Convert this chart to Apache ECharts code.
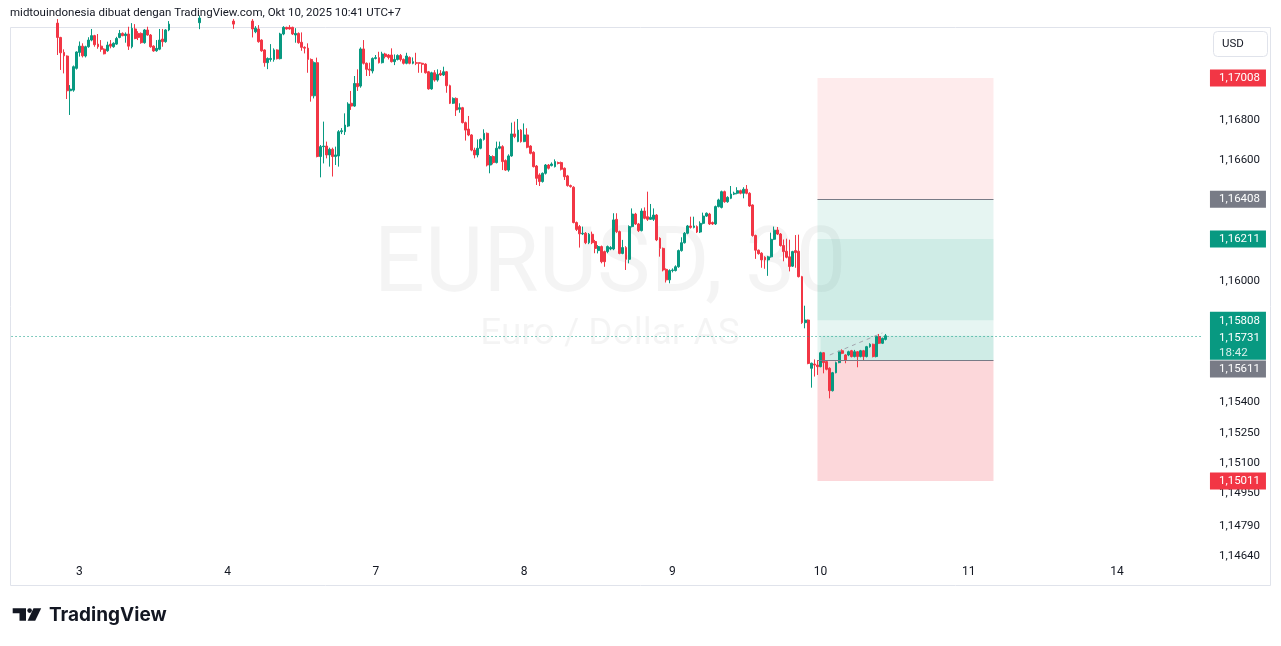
<!DOCTYPE html>
<html>
<head>
<meta charset="utf-8">
<script src="https://cdn.jsdelivr.net/npm/echarts@6/dist/echarts.min.js"></script>
<style>
html,body{margin:0;padding:0;background:#ffffff;}
#chart{width:1281px;height:646px;}
</style>
</head>
<body>
<div id="chart"></div>
<script>
// ---------- DATA (30-minute EURUSD bars, [open, high, low, close]) ----------
const oct2 = [
[1.17280,1.17300,1.17122,1.17209],[1.17209,1.17212,1.17048,1.17133],[1.17135,1.17150,1.17031,1.17118],
[1.17117,1.17120,1.16904,1.16945],[1.16945,1.16973,1.16825,1.16953],[1.16948,1.17070,1.16940,1.17064],
[1.17056,1.17140,1.17050,1.17137]
];
const oct3 = [
[1.17135,1.17189,1.17114,1.17166],[1.17166,1.17180,1.17110,1.17118],[1.17117,1.17168,1.17110,1.17163],
[1.17163,1.17210,1.17158,1.17196],[1.17196,1.17251,1.17190,1.17218],[1.17218,1.17222,1.17163,1.17173],
[1.17176,1.17226,1.17153,1.17163],[1.17166,1.17196,1.17138,1.17150],[1.17151,1.17155,1.17125,1.17128],
[1.17143,1.17188,1.17138,1.17171],[1.17176,1.17196,1.17155,1.17166],[1.17163,1.17185,1.17158,1.17180],
[1.17176,1.17212,1.17172,1.17204],[1.17209,1.17246,1.17205,1.17229],[1.17229,1.17234,1.17215,1.17218],
[1.17218,1.17234,1.17183,1.17226],[1.17226,1.17262,1.17147,1.17166],[1.17163,1.17280,1.17155,1.17254],
[1.17251,1.17275,1.17200,1.17204],[1.17229,1.17240,1.17196,1.17209],[1.17229,1.17234,1.17178,1.17183],
[1.17183,1.17251,1.17178,1.17246],[1.17246,1.17262,1.17218,1.17221],[1.17221,1.17226,1.17158,1.17163],
[1.17166,1.17170,1.17138,1.17142],[1.17143,1.17196,1.17138,1.17155],[1.17151,1.17251,1.17146,1.17196],
[1.17201,1.17251,1.17163,1.17188],[1.17188,1.17250,1.17183,1.17246],[1.17246,1.17290,1.17240,1.17275],
[1.17275,1.17310,1.17262,1.17298],[1.17298,1.17335,1.17285,1.17320],[1.17320,1.17340,1.17290,1.17302],
[1.17302,1.17330,1.17280,1.17315],[1.17315,1.17360,1.17305,1.17348],[1.17348,1.17372,1.17330,1.17338],
[1.17338,1.17350,1.17300,1.17312],[1.17312,1.17325,1.17280,1.17290],[1.17290,1.17310,1.17270,1.17282],
[1.17282,1.17318,1.17250,1.17305],[1.17305,1.17345,1.17298,1.17338],[1.17338,1.17385,1.17330,1.17370],
[1.17370,1.17410,1.17355,1.17395],[1.17395,1.17420,1.17370,1.17378],[1.17378,1.17392,1.17340,1.17352],
[1.17352,1.17368,1.17320,1.17330],[1.17330,1.17348,1.17300,1.17318],[1.17318,1.17335,1.17290,1.17300]
];
const oct4 = [
[1.17300,1.17325,1.17285,1.17310],[1.17310,1.17320,1.17278,1.17290],[1.17290,1.17300,1.17252,1.17275],
[1.17275,1.17310,1.17268,1.17302],[1.17302,1.17330,1.17290,1.17318],[1.17318,1.17325,1.17280,1.17292],
[1.17292,1.17305,1.17270,1.17285],[1.17285,1.17300,1.17265,1.17290],[1.17290,1.17300,1.17209,1.17251],
[1.17237,1.17265,1.17230,1.17255],[1.17251,1.17270,1.17183,1.17188],[1.17196,1.17200,1.17138,1.17143],
[1.17147,1.17150,1.17064,1.17084],[1.17084,1.17110,1.17052,1.17105],[1.17100,1.17176,1.17089,1.17105],
[1.17100,1.17155,1.17089,1.17147],[1.17147,1.17150,1.17100,1.17104],[1.17104,1.17232,1.17100,1.17226],
[1.17226,1.17265,1.17220,1.17259],[1.17259,1.17262,1.17248,1.17251],[1.17259,1.17270,1.17248,1.17251],
[1.17259,1.17262,1.17221,1.17226],[1.17221,1.17255,1.17183,1.17229],[1.17229,1.17234,1.17178,1.17183],
[1.17185,1.17234,1.17143,1.17160],[1.17160,1.17165,1.17130,1.17156],[1.17156,1.17180,1.17034,1.17100],
[1.17100,1.17105,1.16891,1.16920],[1.16920,1.17090,1.16907,1.17084],[1.17084,1.17109,1.16615,1.16619],
[1.16619,1.16676,1.16516,1.16668],[1.16668,1.16792,1.16585,1.16671],[1.16671,1.16693,1.16610,1.16627],
[1.16627,1.16663,1.16569,1.16655],[1.16655,1.16663,1.16520,1.16619],[1.16619,1.16668,1.16577,1.16627],
[1.16622,1.16750,1.16569,1.16742],[1.16742,1.16760,1.16730,1.16747],[1.16742,1.16833,1.16726,1.16775],
[1.16770,1.16888,1.16765,1.16879],[1.16883,1.16944,1.16850,1.16869],[1.16869,1.17018,1.16865,1.16981],
[1.16981,1.17051,1.16944,1.16965],[1.16968,1.17160,1.16960,1.17152],[1.17152,1.17196,1.17075,1.17081],
[1.17081,1.17085,1.17018,1.17051],[1.17052,1.17084,1.17018,1.17047],[1.17043,1.17110,1.17031,1.17105]
];
const oct7 = [
[1.17105,1.17122,1.17100,1.17109],[1.17109,1.17138,1.17080,1.17084],[1.17084,1.17138,1.17080,1.17127],
[1.17127,1.17133,1.17105,1.17114],[1.17122,1.17127,1.17100,1.17110],[1.17122,1.17155,1.17085,1.17089],
[1.17089,1.17125,1.17072,1.17100],[1.17100,1.17125,1.17095,1.17120],[1.17120,1.17127,1.17090,1.17100],
[1.17100,1.17105,1.17075,1.17081],[1.17081,1.17133,1.17076,1.17117],[1.17110,1.17115,1.17076,1.17081],
[1.17081,1.17110,1.17076,1.17089],[1.17084,1.17133,1.17072,1.17081],[1.17084,1.17085,1.17034,1.17081],
[1.17081,1.17084,1.17034,1.17076],[1.17077,1.17081,1.17030,1.17034],[1.17039,1.17043,1.16950,1.16954],
[1.16954,1.17039,1.16950,1.17034],[1.17034,1.17047,1.16990,1.16998],[1.16998,1.17051,1.16990,1.17026],
[1.17031,1.17047,1.17018,1.17023],[1.17023,1.17064,1.17018,1.17039],[1.17039,1.17043,1.16935,1.16970],
[1.16970,1.16975,1.16879,1.16883],[1.16883,1.16912,1.16879,1.16907],[1.16907,1.16912,1.16820,1.16850],
[1.16853,1.16883,1.16836,1.16861],[1.16861,1.16865,1.16783,1.16787],[1.16787,1.16792,1.16698,1.16750],
[1.16755,1.16820,1.16720,1.16726],[1.16726,1.16730,1.16645,1.16651],[1.16651,1.16663,1.16610,1.16627],
[1.16627,1.16704,1.16615,1.16660],[1.16660,1.16709,1.16655,1.16704],[1.16704,1.16754,1.16698,1.16734],
[1.16734,1.16738,1.16570,1.16577],[1.16577,1.16627,1.16536,1.16619],[1.16619,1.16625,1.16580,1.16589],
[1.16589,1.16693,1.16585,1.16660],[1.16660,1.16693,1.16655,1.16668],[1.16668,1.16675,1.16552,1.16594],
[1.16599,1.16605,1.16548,1.16552],[1.16552,1.16630,1.16544,1.16622],[1.16622,1.16787,1.16618,1.16731],
[1.16731,1.16792,1.16710,1.16718],[1.16693,1.16805,1.16690,1.16750],[1.16750,1.16755,1.16688,1.16693]
];
const oct8 = [
[1.16693,1.16783,1.16690,1.16726],[1.16726,1.16759,1.16660,1.16665],[1.16671,1.16675,1.16630,1.16635],
[1.16640,1.16645,1.16565,1.16569],[1.16572,1.16577,1.16478,1.16511],[1.16528,1.16536,1.16473,1.16495],
[1.16495,1.16540,1.16490,1.16536],[1.16536,1.16582,1.16530,1.16577],[1.16577,1.16582,1.16555,1.16561],
[1.16574,1.16590,1.16570,1.16582],[1.16569,1.16605,1.16565,1.16594],[1.16589,1.16594,1.16580,1.16585],
[1.16589,1.16594,1.16550,1.16556],[1.16561,1.16565,1.16503,1.16519],[1.16523,1.16528,1.16470,1.16475],
[1.16475,1.16480,1.16465,1.16470],[1.16467,1.16472,1.16288,1.16292],[1.16292,1.16297,1.16250,1.16258],
[1.16272,1.16280,1.16168,1.16236],[1.16236,1.16272,1.16230,1.16239],[1.16239,1.16245,1.16185,1.16192],
[1.16192,1.16240,1.16185,1.16234],[1.16234,1.16247,1.16185,1.16192],[1.16198,1.16206,1.16140,1.16164],
[1.16153,1.16180,1.16139,1.16173],[1.16173,1.16178,1.16090,1.16098],[1.16148,1.16153,1.16073,1.16098],
[1.16148,1.16178,1.16140,1.16173],[1.16161,1.16175,1.16155,1.16168],[1.16161,1.16338,1.16155,1.16305],
[1.16308,1.16338,1.16240,1.16247],[1.16247,1.16252,1.16135,1.16139],[1.16139,1.16206,1.16135,1.16168],
[1.16168,1.16175,1.16057,1.16110],[1.16110,1.16278,1.16090,1.16272],[1.16272,1.16362,1.16268,1.16334],
[1.16334,1.16340,1.16280,1.16285],[1.16285,1.16290,1.16245,1.16252],[1.16252,1.16362,1.16248,1.16349],
[1.16349,1.16367,1.16308,1.16313],[1.16321,1.16445,1.16300,1.16308],[1.16308,1.16384,1.16305,1.16318],
[1.16308,1.16362,1.16300,1.16329],[1.16329,1.16334,1.16200,1.16206],[1.16214,1.16219,1.16123,1.16164],
[1.16164,1.16168,1.16050,1.16057],[1.16060,1.16065,1.15995,1.16008],[1.16008,1.16060,1.15991,1.16054]
];
const oct9 = [
[1.16054,1.16065,1.16045,1.16057],[1.16054,1.16080,1.16050,1.16073],[1.16073,1.16158,1.16068,1.16153],
[1.16153,1.16219,1.16148,1.16192],[1.16192,1.16245,1.16188,1.16239],[1.16239,1.16280,1.16234,1.16275],
[1.16275,1.16321,1.16262,1.16268],[1.16268,1.16321,1.16263,1.16275],[1.16272,1.16278,1.16240,1.16245],
[1.16245,1.16298,1.16240,1.16288],[1.16288,1.16341,1.16283,1.16324],[1.16324,1.16342,1.16320,1.16338],
[1.16334,1.16340,1.16280,1.16285],[1.16292,1.16297,1.16280,1.16285],[1.16285,1.16376,1.16280,1.16371],
[1.16371,1.16410,1.16367,1.16404],[1.16367,1.16450,1.16362,1.16445],[1.16445,1.16450,1.16390,1.16395],
[1.16395,1.16422,1.16390,1.16417],[1.16412,1.16473,1.16408,1.16433],[1.16433,1.16445,1.16428,1.16437],
[1.16437,1.16467,1.16432,1.16450],[1.16450,1.16455,1.16432,1.16437],[1.16437,1.16467,1.16412,1.16457],
[1.16457,1.16478,1.16432,1.16437],[1.16437,1.16442,1.16370,1.16374],[1.16379,1.16382,1.16222,1.16228],
[1.16228,1.16232,1.16112,1.16155],[1.16155,1.16158,1.16133,1.16138],[1.16140,1.16145,1.16068,1.16107],
[1.16120,1.16125,1.16063,1.16107],[1.16107,1.16127,1.16028,1.16122],[1.16122,1.16242,1.16118,1.16209],
[1.16209,1.16272,1.16205,1.16254],[1.16255,1.16270,1.16230,1.16235],[1.16235,1.16240,1.16173,1.16178],
[1.16178,1.16208,1.16100,1.16148],[1.16150,1.16212,1.16115,1.16120],[1.16122,1.16207,1.16050,1.16074],
[1.16076,1.16152,1.16072,1.16148],[1.16153,1.16230,1.16068,1.16143],[1.16150,1.16232,1.16020,1.16024],
[1.16024,1.16028,1.15790,1.15796],[1.15796,1.15880,1.15768,1.15809],[1.15809,1.15812,1.15590,1.15594],
[1.15570,1.15598,1.15474,1.15595],[1.15591,1.15614,1.15529,1.15586],[1.15586,1.15611,1.15537,1.15578]
];
const oct10 = [
[1.15578,1.15652,1.15575,1.15647],[1.15647,1.15650,1.15545,1.15598],[1.15603,1.15606,1.15560,1.15565],
[1.15570,1.15575,1.15421,1.15459],[1.15459,1.15552,1.15455,1.15548],[1.15548,1.15603,1.15545,1.15598],
[1.15598,1.15657,1.15595,1.15652],[1.15657,1.15664,1.15640,1.15644],[1.15636,1.15640,1.15595,1.15611],
[1.15636,1.15657,1.15630,1.15652],[1.15657,1.15661,1.15624,1.15628],[1.15628,1.15661,1.15624,1.15652],
[1.15652,1.15655,1.15575,1.15628],[1.15628,1.15661,1.15624,1.15657],[1.15657,1.15661,1.15611,1.15628],
[1.15628,1.15681,1.15624,1.15677],[1.15677,1.15694,1.15672,1.15689],[1.15689,1.15692,1.15624,1.15628],
[1.15628,1.15731,1.15624,1.15727],[1.15727,1.15740,1.15690,1.15694],[1.15694,1.15722,1.15690,1.15718],
[1.15713,1.15740,1.15708,1.15731]
];

// axis tick labels
const dayLabels = ['3','4','7','8','9','10','11','14'];
const priceTicks = [1.168, 1.166, 1.160, 1.154, 1.1525, 1.151, 1.1495, 1.1479, 1.1464];

// position-tool levels
const stopHigh = 1.17008, upperEntry = 1.16408, innerTop = 1.16211, innerBottom = 1.15808;
const lastPrice = 1.15731, lowerEntry = 1.15611, stopLow = 1.15011;
const lastTime = '18:42';
const trendStart = [265, 1.15636], trendEnd = [282, 1.15745];

// bar slot layout
const firstBar = 15, firstDayStart = 22, barsPerDay = 48, slotCount = 387;
const boxStart = 261, boxEnd = 318, pnlStart = 262;
const yMin = 1.146202, yMax = 1.172558;

// ---------- BUILD ----------
const categories = [];
for (let i = 0; i < slotCount; i++) {
  const d = Math.floor((i - firstDayStart) / barsPerDay);
  const slot = (((i - firstDayStart) % barsPerDay) + barsPerDay) % barsPerDay;
  const day = d < 0 ? '2' : dayLabels[d];
  const hh = String(Math.floor(slot / 2)).padStart(2, '0');
  categories.push(day + ' ' + hh + ':' + (slot % 2 ? '30' : '00'));
}
const bars = [].concat(oct2, oct3, oct4, oct7, oct8, oct9, oct10);
const candles = bars.map((b, k) => [firstBar + k, b[0], b[3], b[2], b[1]]);

const fmt = v => v.toFixed(5).replace('.', ',');
const UP = '#089981', DOWN = '#f23645', GRAY = '#787b86', INK = '#131722';
const FONT = 'Roboto, "Liberation Sans", sans-serif';
const CLEAR = 'rgba(0,0,0,0)';
const lastSlot = slotCount - 1;

// a full-width level: a pair of points from the first to the last slot
function level(value, lineStyle, label) {
  return [
    { xAxis: 0, yAxis: value, lineStyle: lineStyle, label: label },
    { xAxis: lastSlot, yAxis: value }
  ];
}
function tagLabel(text, bg, dy) {
  return {
    show: true, position: 'end', distance: 6.5, offset: [0, dy || 0],
    formatter: text, color: '#ffffff', backgroundColor: bg,
    fontFamily: FONT, fontSize: 11.5, padding: [2, 4, 2, 9], width: 43, height: 13, lineHeight: 13
  };
}
const hidden = { color: CLEAR, width: 1, type: 'solid' };

const chart = echarts.init(document.getElementById('chart'), null, { renderer: 'canvas' });
chart.setOption({
  animation: false,
  backgroundColor: '#ffffff',
  grid: { left: 10, right: 76, top: 28, bottom: 86, containLabel: false },
  xAxis: {
    type: 'category', data: categories, boundaryGap: true,
    axisLine: { show: false }, axisTick: { show: false }, splitLine: { show: false },
    axisLabel: {
      interval: (idx, val) => val.endsWith(' 00:00'),
      formatter: v => v.split(' ')[0],
      color: INK, fontSize: 12, fontFamily: FONT, margin: 6
    }
  },
  yAxis: {
    type: 'value', position: 'right', min: yMin, max: yMax,
    axisLine: { show: false }, axisTick: { show: false }, splitLine: { show: false },
    axisLabel: {
      customValues: priceTicks, formatter: v => fmt(v),
      color: INK, fontSize: 11.5, fontFamily: FONT, margin: 14
    }
  },
  graphic: [
    { type: 'rect', silent: true, z: -10, shape: { x: 10.5, y: 27.5, width: 1260, height: 558 },
      style: { fill: 'none', stroke: '#e0e3eb', lineWidth: 1 } },
    { type: 'text', silent: true, z: -5, x: 610, y: 268,
      style: { text: 'EURUSD, 30', fill: 'rgba(0,0,0,0.045)', font: '90px Roboto, sans-serif', align: 'center', verticalAlign: 'middle' } },
    { type: 'text', silent: true, z: -5, x: 610, y: 335,
      style: { text: 'Euro / Dollar AS', fill: 'rgba(0,0,0,0.045)', font: '37px Roboto, sans-serif', align: 'center', verticalAlign: 'middle' } },
    { type: 'text', silent: true, x: 10, y: 13,
      style: { text: 'midtouindonesia dibuat dengan TradingView.com, Okt 10, 2025 10:41 UTC+7', fill: INK,
               font: '11.5px Roboto, sans-serif', verticalAlign: 'middle' } },
    { type: 'rect', silent: true, shape: { x: 1213.5, y: 31.5, width: 54, height: 25, r: 4 },
      style: { fill: '#ffffff', stroke: '#e0e3eb', lineWidth: 1 } },
    { type: 'text', silent: true, x: 1222, y: 44,
      style: { text: 'USD', fill: INK, font: '11.5px Roboto, sans-serif', verticalAlign: 'middle' } },
    // TradingView logo
    { type: 'polygon', silent: true, shape: { points: [[12.7,608.3],[26,608.3],[26,620.7],[19.5,620.7],[19.5,613.3],[12.7,613.3]] },
      style: { fill: INK } },
    { type: 'circle', silent: true, shape: { cx: 29.6, cy: 610.6, r: 2.3 }, style: { fill: INK } },
    { type: 'polygon', silent: true, shape: { points: [[33.5,608.3],[41.2,608.3],[35.2,620.7],[27.6,620.7]] },
      style: { fill: INK } },
    { type: 'text', silent: true, x: 49, y: 615,
      style: { text: 'TradingView', fill: INK, font: 'bold 19px Inter, Roboto, sans-serif', verticalAlign: 'middle' } }
  ],
  series: [{
    type: 'candlestick',
    data: candles,
    encode: { x: 0, y: [1, 2, 3, 4] },
    barWidth: 2.4,
    itemStyle: { color: UP, color0: DOWN, borderColor: UP, borderColor0: DOWN, borderWidth: 1 },
    emphasis: { disabled: true },
    markArea: {
      silent: true,
      data: [
        [{ xAxis: boxStart, yAxis: stopHigh, itemStyle: { color: 'rgba(242,54,69,0.1)' } }, { xAxis: boxEnd, yAxis: upperEntry }],
        [{ xAxis: boxStart, yAxis: upperEntry, itemStyle: { color: 'rgba(8,153,129,0.1)' } }, { xAxis: boxEnd, yAxis: lowerEntry }],
        [{ xAxis: boxStart, yAxis: innerTop, itemStyle: { color: 'rgba(8,153,129,0.1)' } }, { xAxis: boxEnd, yAxis: innerBottom }],
        [{ xAxis: pnlStart, yAxis: lastPrice, itemStyle: { color: 'rgba(8,153,129,0.1)' } }, { xAxis: boxEnd, yAxis: lowerEntry }],
        [{ xAxis: boxStart, yAxis: lowerEntry, itemStyle: { color: 'rgba(242,54,69,0.2)' } }, { xAxis: boxEnd, yAxis: stopLow }]
      ]
    },
    markLine: {
      silent: true, symbol: ['none', 'none'], animation: false,
      data: [
        level(stopHigh, hidden, tagLabel(fmt(stopHigh), DOWN)),
        level(upperEntry, hidden, tagLabel(fmt(upperEntry), GRAY)),
        level(innerTop, hidden, tagLabel(fmt(innerTop), UP)),
        level(lowerEntry, hidden, tagLabel(fmt(lowerEntry), GRAY, 9)),
        level(stopLow, hidden, tagLabel(fmt(stopLow), DOWN)),
        level(lastPrice, { color: UP, type: [1, 3], width: 1 }, {
          show: true, position: 'end', distance: 6.5,
          formatter: '{a|' + fmt(innerBottom) + '}\n{b|' + fmt(lastPrice) + '}\n{c|' + lastTime + '}',
          backgroundColor: UP, padding: [0, 4, 0, 9], width: 43,
          rich: {
            a: { color: '#ffffff', fontFamily: FONT, fontSize: 11.5, lineHeight: 18 },
            b: { color: '#ffffff', fontFamily: FONT, fontSize: 11.5, lineHeight: 17 },
            c: { color: 'rgba(255,255,255,0.85)', fontFamily: FONT, fontSize: 11.5, lineHeight: 13 }
          }
        }),
        [{ xAxis: boxStart, yAxis: upperEntry, lineStyle: { color: GRAY, width: 1, type: 'solid' }, label: { show: false } },
         { xAxis: boxEnd, yAxis: upperEntry }],
        [{ xAxis: boxStart, yAxis: lowerEntry, lineStyle: { color: GRAY, width: 1, type: 'solid' }, label: { show: false } },
         { xAxis: boxEnd, yAxis: lowerEntry }],
        [{ xAxis: trendStart[0], yAxis: trendStart[1], lineStyle: { color: '#a3a6af', width: 1, type: [4, 4] }, label: { show: false } },
         { xAxis: trendEnd[0], yAxis: trendEnd[1] }]
      ]
    }
  }]
});
</script>
</body>
</html>
